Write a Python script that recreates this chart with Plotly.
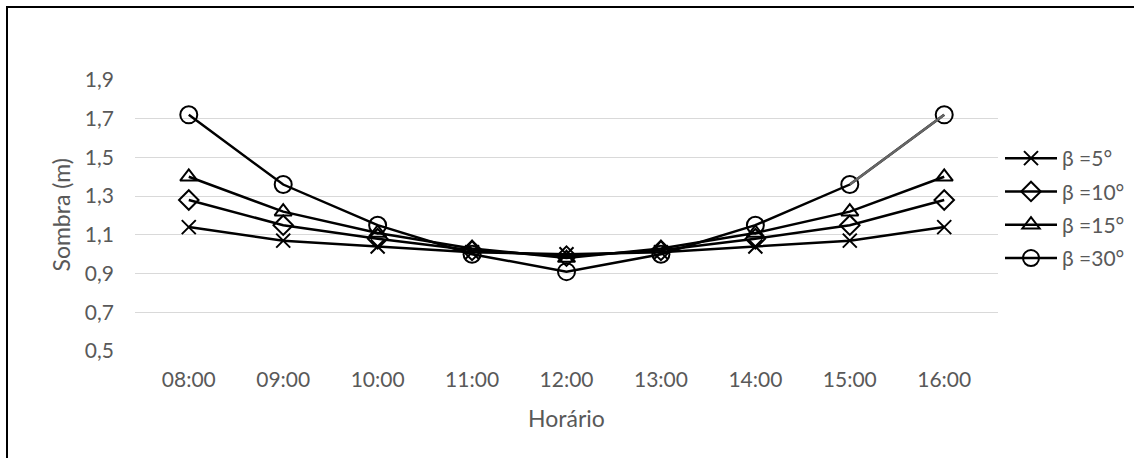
import plotly.graph_objects as go

# Shadow length (m) by time of day for each tilt angle
horarios = ["08:00", "09:00", "10:00", "11:00", "12:00", "13:00", "14:00", "15:00", "16:00"]
beta_5 = [1.14, 1.07, 1.04, 1.01, 1.00, 1.01, 1.04, 1.07, 1.14]
beta_10 = [1.28, 1.15, 1.08, 1.02, 0.99, 1.02, 1.08, 1.15, 1.28]
beta_15 = [1.40, 1.22, 1.11, 1.03, 0.98, 1.03, 1.11, 1.22, 1.40]
beta_30 = [1.72, 1.36, 1.15, 1.00, 0.91, 1.00, 1.15, 1.36, 1.72]

series_names = ["β =5°", "β =10°", "β =15°", "β =30°"]
series_values = [beta_5, beta_10, beta_15, beta_30]
symbols = ["x-thin-open", "diamond-open", "triangle-up-open", "circle-open"]
sizes = [14, 15, 15, 17]

y_ticks = [0.5, 0.7, 0.9, 1.1, 1.3, 1.5, 1.7, 1.9]
y_tick_text = [f"{v:.1f}".replace(".", ",") for v in y_ticks]

W, H = 1134, 458
ML, MR, MT, MB = 135, 136, 80, 107
FONT = "Lato"
GRAY = "#595959"

fig = go.Figure()
for i, (name, vals, sym, sz) in enumerate(zip(series_names, series_values, symbols, sizes)):
    fig.add_trace(go.Scatter(
        x=horarios, y=vals, name=name, mode="lines+markers",
        legendgroup=name,
        line=dict(color="black", width=2.5),
        marker=dict(symbol=sym, size=sz, color="black", line=dict(color="black", width=2)),
    ))

# final segment of the β =30° series is drawn in gray
fig.add_trace(go.Scatter(
    x=horarios[-2:], y=beta_30[-2:], mode="lines", showlegend=False, hoverinfo="skip",
    line=dict(color="#666666", width=2.5),
))

pw = W - ML - MR
ph = H - MT - MB
# chart frame (left and top edges visible)
fig.add_shape(
    type="rect", xref="paper", yref="paper",
    x0=(7 - ML) / pw, x1=(W + 20 - ML) / pw,
    y0=-(MB + 20) / ph, y1=(H - MB - 7) / ph,
    line=dict(color="black", width=2), fillcolor="rgba(0,0,0,0)", layer="below",
)

# vertical axis title
fig.add_annotation(
    text="Sombra (m)", xref="paper", yref="paper",
    x=(60 - ML) / pw, y=0.5, xanchor="center", yanchor="middle",
    textangle=-90, showarrow=False,
    font=dict(family=FONT, size=23, color=GRAY),
)

fig.update_layout(
    width=W, height=H,
    margin=dict(l=ML, r=MR, t=MT, b=MB, autoexpand=False),
    paper_bgcolor="white", plot_bgcolor="white",
    font=dict(family=FONT, size=21, color=GRAY),
    showlegend=True,
    legend=dict(
        x=(1000 - ML) / pw, xanchor="left",
        y=(H - MB - 138) / ph, yanchor="top",
        font=dict(family=FONT, size=21, color=GRAY),
        tracegroupgap=3, itemwidth=52, bgcolor="rgba(0,0,0,0)",
    ),
    xaxis=dict(
        type="category", categoryorder="array", categoryarray=horarios,
        showgrid=False, showline=False, zeroline=False,
        ticks="", ticklabelstandoff=14,
        tickfont=dict(family=FONT, size=21, color=GRAY),
        title=dict(text="Horário", font=dict(family=FONT, size=23, color=GRAY), standoff=20),
    ),
    yaxis=dict(
        range=[0.5, 1.9], tickvals=y_ticks, ticktext=y_tick_text,
        showgrid=True, gridcolor="#d9d9d9", gridwidth=1.3,
        zeroline=False, showline=False, ticks="", ticklabelstandoff=20,
        tickfont=dict(family=FONT, size=21, color=GRAY),
    ),
)

fig.write_html("out.html")
